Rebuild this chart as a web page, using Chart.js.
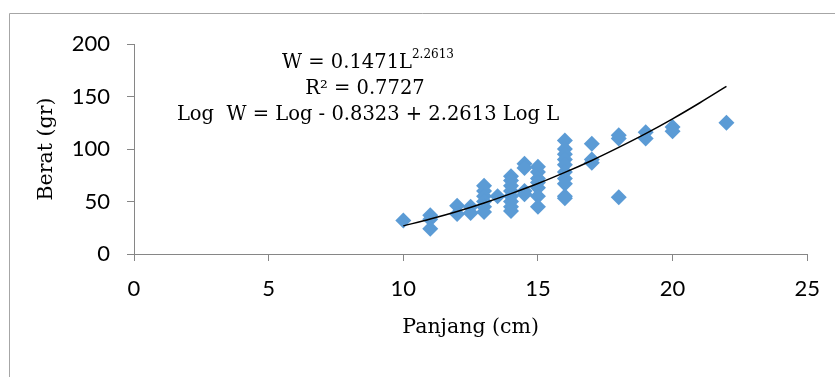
<!DOCTYPE html>
<html>
<head>
<meta charset="utf-8">
<script src="https://cdn.jsdelivr.net/npm/chart.js@4/dist/chart.umd.min.js"></script>
<style>
  body { margin: 0; background: #fff; }
</style>
</head>
<body>
<canvas id="chart" width="835" height="377"></canvas>
<script>
// Panjang (cm) / Berat (gr)
const panjang = [10, 11, 11, 11, 12, 12, 12.5, 12.5,
    13, 13, 13, 13, 13, 13, 13.5,
    14, 14, 14, 14, 14, 14, 14, 14,
    14.5, 14.5, 14.5, 14.5,
    15, 15, 15, 15, 15, 15, 15,
    16, 16, 16, 16, 16, 16, 16, 16, 16, 16,
    17, 17, 17, 18, 18, 18, 19, 19, 20, 20, 22];
const berat = [32, 37, 33, 24, 46, 38, 45, 39,
    65, 60, 55, 50, 45, 40, 55,
    74, 70, 65, 60, 55, 50, 45, 41,
    86, 82, 60, 57,
    83, 78, 72, 68, 63, 55, 45,
    108, 100, 95, 90, 85, 78, 72, 67, 55, 53,
    105, 90, 87, 113, 110, 54, 116, 110, 121, 117, 125];

// power trendline as drawn
const trendL = [10, 11, 12, 13, 14, 15, 16, 17, 18, 19, 20, 21, 22];
const trendW = [26.8, 33.3, 40.5, 48.6, 57.5, 67.1, 77.7, 89.1, 101.5, 114.6, 128.7, 143.8, 159.6];

const xTicks = [0, 5, 10, 15, 20, 25];
const yTicks = [0, 50, 100, 150, 200];

const eqLines = ['W = 0.1471L', '2.2613', 'R\u00b2 = 0.7727', 'Log  W = Log - 0.8323 + 2.2613 Log L'];

const serif = '"DejaVu Serif", serif';
const sans = 'Lato, "Liberation Sans", sans-serif';

const frame = {
    id: 'frame',
    beforeDraw(chart) {
        const ctx = chart.ctx;
        ctx.save();
        ctx.fillStyle = '#fff';
        ctx.fillRect(0, 0, chart.width, chart.height);
        ctx.strokeStyle = '#a6a6a6';
        ctx.lineWidth = 1;
        ctx.beginPath();
        ctx.moveTo(9.5, chart.height);
        ctx.lineTo(9.5, 13.5);
        ctx.lineTo(chart.width, 13.5);
        ctx.stroke();
        ctx.restore();
    },
    afterDraw(chart) {
        const ctx = chart.ctx;
        const cx = 368;
        ctx.save();
        ctx.fillStyle = '#000';
        ctx.textBaseline = 'alphabetic';
        ctx.font = '19.5px ' + serif;
        const w1 = ctx.measureText(eqLines[0]).width;
        ctx.font = '12px ' + serif;
        const w2 = ctx.measureText(eqLines[1]).width;
        const x1 = cx - (w1 + w2) / 2;
        ctx.textAlign = 'left';
        ctx.font = '19.5px ' + serif;
        ctx.fillText(eqLines[0], x1, 68);
        ctx.font = '12px ' + serif;
        ctx.fillText(eqLines[1], x1 + w1, 58);
        ctx.textAlign = 'center';
        ctx.font = '19.5px ' + serif;
        ctx.fillText(eqLines[2], cx - 3, 94);
        ctx.fillText(eqLines[3], cx, 120);
        ctx.restore();
    }
};

new Chart(document.getElementById('chart'), {
    type: 'scatter',
    data: {
        datasets: [{
            label: 'Berat',
            data: panjang.map((p, i) => ({ x: p, y: berat[i] })),
            backgroundColor: '#5b9bd5',
            borderColor: '#5b9bd5',
            borderWidth: 0,
            pointStyle: 'rectRot',
            pointRadius: 8,
            order: 2
        }, {
            type: 'line',
            label: 'Power',
            data: trendL.map((l, i) => ({ x: l, y: trendW[i] })),
            borderColor: '#000',
            borderWidth: 1.5,
            pointRadius: 0,
            fill: false,
            cubicInterpolationMode: 'monotone',
            order: 1
        }]
    },
    options: {
        responsive: false,
        animation: false,
        layout: { padding: { left: 0, top: 44, right: 27, bottom: 37 } },
        plugins: {
            legend: { display: false },
            tooltip: { enabled: false }
        },
        scales: {
            x: {
                type: 'linear',
                min: 0, max: 25,
                afterBuildTicks: s => { s.ticks = xTicks.map(v => ({ value: v })); },
                afterFit: s => { s.height = 86; },
                border: { color: '#868686', width: 1 },
                grid: { drawOnChartArea: false, drawTicks: true, tickLength: 7, color: '#868686' },
                ticks: { color: '#000', font: { family: sans, size: 22 }, padding: 15, maxRotation: 0 },
                title: { display: true, text: 'Panjang (cm)', color: '#000', font: { family: serif, size: 20.5 }, padding: 0 }
            },
            y: {
                min: 0, max: 200,
                afterBuildTicks: s => { s.ticks = yTicks.map(v => ({ value: v })); },
                afterFit: s => { s.width = 134; },
                border: { color: '#868686', width: 1 },
                grid: { drawOnChartArea: false, drawTicks: true, tickLength: 7, color: '#868686' },
                ticks: { color: '#000', font: { family: sans, size: 22 }, padding: 17 },
                title: { display: true, text: 'Berat (gr)', color: '#000', font: { family: serif, size: 20.5 }, padding: { top: 34, bottom: 0 } }
            }
        }
    },
    plugins: [frame]
});
</script>
</body>
</html>
